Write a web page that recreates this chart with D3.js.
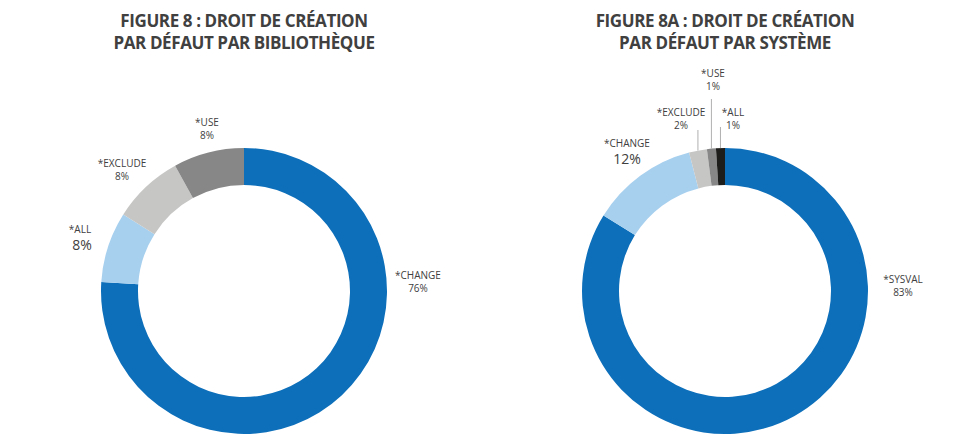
<!DOCTYPE html>
<html><head><meta charset="utf-8">
<script src="https://cdn.jsdelivr.net/npm/d3@7"></script>
<style>
html,body{margin:0;padding:0;background:#fff;}
svg{display:block;font-family:"Open Sans",sans-serif;}
</style></head>
<body><svg id="chart" width="960" height="440"></svg>
<script>
// Figure 8 : par bibliothèque
const catsA = ["*CHANGE", "*ALL", "*EXCLUDE", "*USE"];
const valsA = [76, 8, 8, 8];
const labelsA = ["76%", "8%", "8%", "8%"];
// Figure 8A : par système
const catsB = ["*SYSVAL", "*CHANGE", "*EXCLUDE", "*USE", "*ALL"];
const valsB = [83, 12, 2, 1, 1];
const labelsB = ["83%", "12%", "2%", "1%", "1%"];
const titlesA = ["FIGURE 8 : DROIT DE CRÉATION", "PAR DÉFAUT PAR BIBLIOTHÈQUE"];
const titlesB = ["FIGURE 8A : DROIT DE CRÉATION", "PAR DÉFAUT PAR SYSTÈME"];

const colorMap = {"*CHANGE_A":"#0d6fba","*SYSVAL":"#0d6fba","*CHANGE_B":"#a7d0ef","*ALL_A":"#a7d0ef",
  "*EXCLUDE":"#c6c6c5","*USE":"#878787","*ALL_B":"#1d1d1b"};

const svg = d3.select("#chart");
const R = 143, r = 106;
const textColor = "#404040";

function donut(cx, cy, cats, vals, labels, titles, key, labelPos) {
  const g = svg.append("g").attr("transform", `translate(${cx},${cy})`);
  const pie = d3.pie().sort(null).value(d => d.v);
  const data = cats.map((c, i) => ({c, v: vals[i], l: labels[i], i}));
  const arcs = pie(data);
  const arc = d3.arc().innerRadius(r).outerRadius(R);
  g.selectAll("path").data(arcs).join("path")
    .attr("d", arc)
    .attr("fill", d => colorMap[d.data.c] || colorMap[d.data.c + "_" + key]);
  // titles
  const tg = svg.append("g");
  titles.forEach((t, i) => {
    tg.append("text").attr("x", cx).attr("y", 26.5 + i * 22)
      .attr("text-anchor", "middle").attr("font-weight", 700)
      .attr("font-size", 17).attr("fill", "#404040")
      .style("letter-spacing", "-0.4px")
      .text(t);
  });
  // labels
  arcs.forEach(a => {
    const p = labelPos[a.data.c];
    const lg = svg.append("g");
    lg.append("text").attr("x", p.x).attr("y", p.y).attr("text-anchor", "middle")
      .attr("font-size", 10).attr("fill", textColor).text(a.data.c);
    lg.append("text").attr("x", p.x + (p.dx || 0)).attr("y", p.y + (p.big ? 17 : 13)).attr("text-anchor", "middle")
      .attr("font-size", p.big ? 14 : 10).attr("fill", textColor).text(a.data.l);
    if (p.line) {
      const mid = (a.startAngle + a.endAngle) / 2;
      const x = cx + Math.sin(mid) * R;
      lg.append("line").attr("x1", x).attr("x2", x)
        .attr("y1", p.line).attr("y2", cy - Math.cos(mid) * R)
        .attr("stroke", "#b0b0b0").attr("stroke-width", 1);
    }
  });
}

donut(244, 291, catsA, valsA, labelsA, titlesA, "A", {
  "*CHANGE": {x: 418, y: 279},
  "*ALL": {x: 80, y: 233, big: true, dx: 2},
  "*EXCLUDE": {x: 122, y: 167},
  "*USE": {x: 207, y: 126}
});
donut(725, 291, catsB, valsB, labelsB, titlesB, "B", {
  "*SYSVAL": {x: 903, y: 283},
  "*CHANGE": {x: 627, y: 147, big: true},
  "*EXCLUDE": {x: 681, y: 116, line: 130},
  "*USE": {x: 713, y: 77, line: 99},
  "*ALL": {x: 733, y: 116, line: 127}
});
</script></body></html>
